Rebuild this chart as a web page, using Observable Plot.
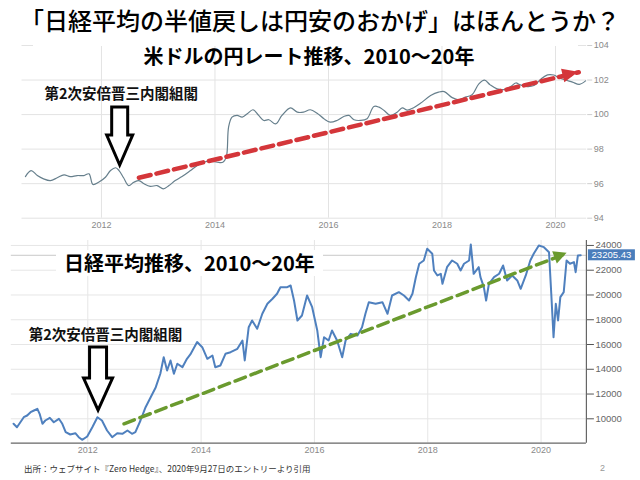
<!DOCTYPE html>
<html><head><meta charset="utf-8">
<script src="https://cdn.jsdelivr.net/npm/d3@7"></script>
<script src="https://cdn.jsdelivr.net/npm/@observablehq/plot@0.6"></script>
<style>
body{margin:0;background:#fff}
#page{position:relative;width:640px;height:480px;overflow:hidden;background:#fff;font-family:"Noto Sans CJK JP",sans-serif}
.abs{position:absolute;white-space:nowrap}
</style></head><body><div id="page"></div>
<script>
// ---- data: USD/JPY-related index (top chart) ----
const fxYears = [2010.66,2010.76,2010.87,2010.98,2011.10,2011.22,2011.34,2011.45,2011.57,2011.69,2011.78,2011.85,2011.95,2012.07,2012.16,2012.25,2012.31,2012.39,2012.48,2012.57,2012.66,2012.75,2012.86,2012.98,2013.09,2013.19,2013.30,2013.42,2013.57,2013.69,2013.80,2013.92,2014.04,2014.14,2014.20,2014.24,2014.30,2014.39,2014.48,2014.57,2014.67,2014.77,2014.86,2014.95,2015.07,2015.18,2015.33,2015.45,2015.56,2015.68,2015.80,2015.92,2016.03,2016.15,2016.27,2016.36,2016.45,2016.56,2016.68,2016.80,2016.89,2016.98,2017.09,2017.21,2017.30,2017.39,2017.50,2017.62,2017.80,2017.94,2018.04,2018.18,2018.30,2018.41,2018.53,2018.65,2018.75,2018.85,2018.97,2019.09,2019.21,2019.30,2019.38,2019.50,2019.62,2019.74,2019.86,2019.97,2020.07,2020.18,2020.30,2020.42,2020.53];
const fxValues = [96.41,96.76,96.47,96.28,96.18,96.34,96.51,96.41,96.47,96.47,96.57,95.95,96.08,96.37,96.76,96.92,96.76,96.34,95.89,96.08,96.18,95.99,95.84,95.89,95.70,95.89,96.18,96.41,96.76,97.05,97.24,97.30,97.24,97.24,97.55,99.27,99.85,99.95,99.85,100.05,100.28,99.95,99.66,99.70,99.46,99.95,100.39,100.14,100.14,100.28,100.08,99.76,99.56,99.66,99.89,99.95,99.70,99.66,99.76,100.47,100.43,100.24,99.95,100.14,100.39,100.26,100.40,100.65,101.10,101.30,101.33,100.98,100.86,101.01,101.15,101.78,101.99,101.72,101.49,101.45,101.62,101.83,101.72,101.62,101.68,102.05,102.30,102.29,102.12,102.00,101.88,101.75,101.95];
// ---- data: Nikkei 225 (bottom chart) ----
const nkYears = [2010.69,2010.75,2010.81,2010.87,2010.93,2010.99,2011.05,2011.11,2011.15,2011.20,2011.25,2011.33,2011.40,2011.49,2011.55,2011.61,2011.69,2011.78,2011.84,2011.90,2011.99,2012.08,2012.17,2012.25,2012.34,2012.43,2012.52,2012.61,2012.70,2012.78,2012.84,2012.93,2013.02,2013.11,2013.20,2013.28,2013.34,2013.40,2013.46,2013.52,2013.58,2013.67,2013.75,2013.81,2013.93,2014.02,2014.11,2014.20,2014.25,2014.34,2014.43,2014.52,2014.64,2014.73,2014.77,2014.84,2014.90,2014.99,2015.08,2015.17,2015.26,2015.34,2015.40,2015.52,2015.58,2015.64,2015.70,2015.78,2015.87,2015.96,2016.05,2016.11,2016.17,2016.25,2016.31,2016.40,2016.49,2016.55,2016.64,2016.76,2016.84,2016.90,2016.96,2017.08,2017.20,2017.29,2017.37,2017.49,2017.58,2017.67,2017.73,2017.79,2017.85,2017.93,2017.99,2018.08,2018.11,2018.17,2018.23,2018.26,2018.34,2018.43,2018.52,2018.58,2018.64,2018.73,2018.76,2018.81,2018.90,2018.93,2018.99,2019.03,2019.08,2019.17,2019.26,2019.33,2019.40,2019.49,2019.58,2019.64,2019.73,2019.81,2019.87,2019.96,2020.05,2020.14,2020.18,2020.22,2020.26,2020.30,2020.34,2020.40,2020.45,2020.51,2020.58,2020.61,2020.65,2020.70];
const nkValues = [9596,9321,9725,10129,10266,10533,10670,10808,10404,9596,9863,10081,9725,10000,9596,8918,8732,8837,8514,8303,8570,9321,10129,9863,9055,8514,8837,8788,9055,8788,8918,9863,10937,11745,12553,13635,14976,13901,14709,13635,14443,14168,14847,15200,16200,15784,14847,15113,14168,14305,15250,15380,15654,16325,14709,17399,17940,17270,18481,19289,19693,20097,20630,20630,20767,19556,17940,18344,19960,19015,17132,14976,16591,16325,17132,16325,14976,16325,16861,16727,17399,18481,19418,19289,19418,18481,19960,20226,19960,19556,20097,21438,22520,22787,23732,23328,21979,21575,21712,20905,22246,22787,22520,21979,22520,22787,24079,21712,22246,21438,20630,19556,20905,21438,21712,22383,21171,21575,21171,20500,21575,22787,23328,23999,23861,23458,20097,16591,19289,17940,19822,20226,22787,22520,22654,21842,23191,23205];
const nkLast = 23205.43;
// ---- trend arrows ----
const fxTrendYears = [2012.66, 2020.41];
const fxTrendValues = [96.34, 102.45];
const nkTrendYears = [2012.64, 2020.46];
const nkTrendValues = [9596, 23376];
// ---- annotation (second Abe cabinet) ----
const abeLabel = "第2次安倍晋三内閣組閣";
const abeFxYear = 2012.33, abeFxValue = 97.05;
const abeNkYear = 2012.19, abeNkValue = 10670;
// ---- ticks & texts ----
const yearTicks = [2012, 2014, 2016, 2018, 2020];
const fxTicks = [94, 96, 98, 100, 102, 104];
const nkTicks = [10000, 12000, 14000, 16000, 18000, 20000, 22000, 24000];
const mainTitle = "「日経平均の半値戻しは円安のおかげ」はほんとうか？";
const fxTitle = "米ドルの円レート推移、2010～20年";
const nkTitle = "日経平均推移、2010～20年";
const caption = "出所：ウェブサイト『Zero Hedge』、2020年9月27日のエントリーより引用";
const pageNo = "2";

const fx = fxYears.map((x, i) => ({x, y: fxValues[i]}));
const nk = nkYears.map((x, i) => ({x, y: nkValues[i]}));
const fxTrend = fxTrendYears.map((x, i) => ({x, y: fxTrendValues[i]}));
const nkTrend = nkTrendYears.map((x, i) => ({x, y: nkTrendValues[i]}));

const page = document.getElementById("page");
const tickFont = {fontFamily: "'Liberation Sans', Arial, sans-serif", fontSize: "9px", background: "transparent", overflow: "visible"};
const jp = "'Noto Sans CJK JP', sans-serif";

function headPath(sx, sy, x0, y0, x1, y1, len, hw) {
  const ax = sx(x0), ay = sy(y0), bx = sx(x1), by = sy(y1);
  const a = Math.atan2(by - ay, bx - ax), ux = Math.cos(a), uy = Math.sin(a);
  const cx = bx - ux * len, cy = by - uy * len;
  return `M${bx},${by}L${cx - uy * hw},${cy + ux * hw}L${cx + uy * hw},${cy - ux * hw}Z`;
}
function hollowDown(tx, ty, headW, shaftW, headH, total) {
  return `M${tx},${ty}L${tx - headW},${ty - headH}L${tx - shaftW},${ty - headH}L${tx - shaftW},${ty - total}L${tx + shaftW},${ty - total}L${tx + shaftW},${ty - headH}L${tx + headW},${ty - headH}Z`;
}

// ---------- top chart ----------
const topChart = Plot.plot({
  width: 640, height: 240,
  marginLeft: 21.5, marginRight: 53.8, marginTop: 45, marginBottom: 22.3,
  style: tickFont,
  x: {domain: [2010.6, 2020.55], label: null},
  y: {domain: [94, 104], label: null},
  marks: [
    Plot.gridY(fxTicks, {stroke: "#e3e3e3", strokeOpacity: 1}),
    Plot.gridX(yearTicks, {stroke: "#e3e3e3", strokeOpacity: 1}),
    Plot.axisX(yearTicks, {label: null, tickSize: 0, tickPadding: 3, tickFormat: d => String(d), fill: "#8a8a8a"}),
    Plot.axisY(fxTicks, {label: null, anchor: "right", tickSize: 5, tickPadding: 2, stroke: "#cfcfcf", fill: "#8a8a8a"}),
    Plot.line(fx, {x: "x", y: "y", stroke: "#667f8c", strokeWidth: 1.2, curve: "catmull-rom"}),
    Plot.line(fxTrend, {x: "x", y: "y", stroke: "#d4363a", strokeWidth: 4.5, strokeDasharray: "12 6"}),
    Plot.text([{x: abeFxYear, y: abeFxValue}], {x: "x", y: "y", text: () => abeLabel, dx: 1, dy: -71, fontSize: 14.5, fontWeight: "bold", fontFamily: jp, fill: "#111"})
  ]
});
{
  const sx = topChart.scale("x").apply, sy = topChart.scale("y").apply;
  const s = d3.select(topChart);
  s.append("path").attr("d", headPath(sx, sy, fxTrendYears[0], fxTrendValues[0], fxTrendYears[1], fxTrendValues[1], 16, 7)).attr("fill", "#d4363a");
  s.append("path").attr("d", hollowDown(sx(abeFxYear), sy(abeFxValue), 13, 8, 30, 58)).attr("fill", "#fff").attr("stroke", "#000").attr("stroke-width", 3).attr("stroke-linejoin", "miter");
}
topChart.style.position = "absolute"; topChart.style.left = "0px"; topChart.style.top = "0px";
page.appendChild(topChart);

// ---------- bottom chart ----------
const botChart = Plot.plot({
  width: 640, height: 232,
  marginLeft: 10.8, marginRight: 54.1, marginTop: 8, marginBottom: 21.3,
  style: tickFont,
  x: {domain: [2010.65, 2020.8], label: null},
  y: {domain: [8030, 24400], label: null},
  marks: [
    Plot.gridY(nkTicks, {stroke: "#e6e6e6", strokeOpacity: 1}),
    Plot.gridX(yearTicks, {stroke: "#e6e6e6", strokeOpacity: 1}),
    Plot.ruleY([nkLast], {stroke: "#c9c9c9"}),
    Plot.axisX(yearTicks, {label: null, tickSize: 0, tickPadding: 3, tickFormat: d => String(d), fill: "#8a8a8a"}),
    Plot.axisY(nkTicks, {label: null, anchor: "right", tickSize: 7, tickPadding: 2, tickFormat: d3.format("d"), stroke: "#555", fill: "#666", fontSize: 9.5}),
    Plot.ruleY([8030], {stroke: "#666", strokeWidth: 1.2}),
    Plot.ruleX([2020.8], {stroke: "#666", strokeWidth: 1.2}),
    Plot.line(nk, {x: "x", y: "y", stroke: "#4f80be", strokeWidth: 2}),
    Plot.line(nkTrend, {x: "x", y: "y", stroke: "#6a9a2e", strokeWidth: 3.5, strokeDasharray: "11 6"}),
    Plot.text([{x: abeNkYear, y: abeNkValue}], {x: "x", y: "y", text: () => abeLabel, dx: 7, dy: -75, fontSize: 14.5, fontWeight: "bold", fontFamily: jp, fill: "#111"})
  ]
});
{
  const sx = botChart.scale("x").apply, sy = botChart.scale("y").apply;
  const s = d3.select(botChart);
  s.append("path").attr("d", headPath(sx, sy, nkTrendYears[0], nkTrendValues[0], nkTrendYears[1], nkTrendValues[1], 13, 6.5)).attr("fill", "#6a9a2e");
  s.append("path").attr("d", hollowDown(sx(abeNkYear), sy(abeNkValue), 14.5, 8.5, 32, 63)).attr("fill", "#fff").attr("stroke", "#000").attr("stroke-width", 3);
  const bx = 640 - 54.1 + 2, by = sy(nkLast);
  s.append("rect").attr("x", bx).attr("y", by - 5.5).attr("width", 47).attr("height", 11).attr("fill", "#4a7dbb");
  s.append("text").attr("x", bx + 23.5).attr("y", by).attr("dy", "0.35em").attr("text-anchor", "middle")
    .attr("fill", "#fff").attr("font-size", 9.5).attr("font-family", "'Liberation Sans', Arial, sans-serif").text(d3.format(".2f")(nkLast));
}
botChart.style.position = "absolute"; botChart.style.left = "0px"; botChart.style.top = "232px";
page.appendChild(botChart);

// ---------- texts ----------
function addDiv(text, css) {
  const d = document.createElement("div");
  d.className = "abs"; d.textContent = text; Object.assign(d.style, css); page.appendChild(d); return d;
}
// white mask behind the page title
addDiv("", {left: "33px", top: "0px", width: "545px", height: "46px", background: "#fff"});
addDiv(fxTitle, {left: "0px", width: "618px", textAlign: "center", top: "44px", fontSize: "20px", lineHeight: "24px", fontWeight: "bold", color: "#000", background: "transparent"});
addDiv(mainTitle, {left: "0px", width: "640px", textAlign: "center", top: "6px", fontSize: "24px", lineHeight: "28px", fontWeight: "500", color: "#000"});
addDiv(nkTitle, {left: "56px", top: "250px", padding: "0 8px", fontSize: "20px", lineHeight: "26px", fontWeight: "bold", color: "#000", background: "#fff"});
addDiv(caption, {left: "24px", top: "463px", fontSize: "8.5px", lineHeight: "10px", color: "#333"});
addDiv(pageNo, {left: "600px", top: "463px", fontSize: "9px", lineHeight: "10px", color: "#999", fontFamily: "'Liberation Sans', Arial, sans-serif"});
</script></body></html>
